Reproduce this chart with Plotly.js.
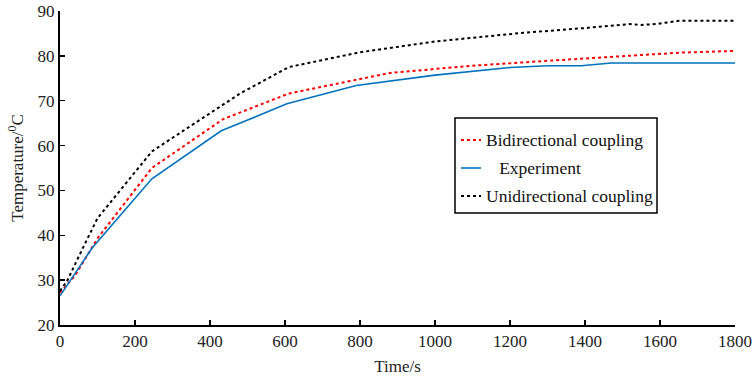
<!DOCTYPE html>
<html>
<head>
<meta charset="utf-8">
<script src="https://cdn.plot.ly/plotly-3.0.1.min.js"></script>
<style>html,body{margin:0;padding:0;background:#fff;}#chart{width:753px;height:377px;}</style>
</head>
<body>
<div id="chart"></div>
<script>
// Bidirectional coupling (red dotted)
const biTime = [0, 40, 100, 245, 435, 610, 880, 1100, 1300, 1500, 1650, 1800];
const biTemp = [27.2, 31.0, 39.3, 55.0, 65.9, 71.6, 76.2, 77.8, 78.9, 79.9, 80.7, 81.1];
// Experiment (blue solid)
const expTime = [0, 85, 245, 430, 605, 790, 1000, 1200, 1300, 1390, 1470, 1800];
const expTemp = [26.5, 37.1, 52.6, 63.3, 69.3, 73.4, 75.7, 77.4, 77.8, 77.8, 78.4, 78.4];
// Unidirectional coupling (black dotted)
const uniTime = [0, 20, 60, 100, 245, 480, 610, 800, 1000, 1230, 1400, 1520, 1550, 1590, 1650, 1800];
const uniTemp = [27.6, 30.0, 37.0, 43.8, 58.7, 71.6, 77.5, 80.8, 83.2, 85.1, 86.2, 87.1, 86.9, 87.1, 87.8, 87.8];

const seriesNames = ["Bidirectional coupling", "\u00a0\u00a0\u00a0Experiment", "Unidirectional coupling"];
const xTicks = [0, 200, 400, 600, 800, 1000, 1200, 1400, 1600, 1800];
const yTicks = [20, 30, 40, 50, 60, 70, 80, 90];

const font = "'Liberation Serif', 'Times New Roman', serif";
const colors = ["#ff0000", "#0072BD", "#000000"];
const dashes = ["3px,3px", "solid", "3px,3px"];
const widths = [2, 1.6, 2];

const traces = [
  {x: biTime, y: biTemp, name: seriesNames[0], mode: "lines",
   line: {color: colors[0], width: widths[0], dash: dashes[0]}},
  {x: expTime, y: expTemp, name: seriesNames[1], mode: "lines",
   line: {color: colors[1], width: widths[1], dash: dashes[1]}},
  {x: uniTime, y: uniTemp, name: seriesNames[2], mode: "lines",
   line: {color: colors[2], width: widths[2], dash: dashes[2]}}
];

// legend box drawn by hand (pixel -> paper helpers)
const M = {l: 60, r: 18, t: 11, b: 52};
const PW = 753 - M.l - M.r, PH = 377 - M.t - M.b;
const px = v => (v - M.l) / PW;
const py = v => (377 - M.b - v) / PH;

const shapes = [
  {type: "rect", xref: "paper", yref: "paper", x0: px(455), x1: px(657), y0: py(213), y1: py(118),
   line: {color: "#000", width: 1.5}, fillcolor: "#fff", layer: "above"}
];
const annotations = [];
const rowY = [140, 168, 196];
for (let i = 0; i < 3; i++) {
  shapes.push({type: "line", xref: "paper", yref: "paper", x0: px(461), x1: px(481), y0: py(rowY[i]), y1: py(rowY[i]),
    line: {color: colors[i], width: widths[i], dash: dashes[i]}, layer: "above"});
  annotations.push({xref: "paper", yref: "paper", x: px(484), y: py(rowY[i]), xanchor: "left", yanchor: "middle",
    text: seriesNames[i], showarrow: false, font: {family: font, size: 17.5, color: "#111"}});
}

const layout = {
  width: 753, height: 377,
  margin: M,
  paper_bgcolor: "#fff", plot_bgcolor: "#fff",
  font: {family: font, size: 17, color: "#222"},
  showlegend: false,
  shapes: shapes,
  annotations: annotations,
  xaxis: {
    range: [0, 1800], tickvals: xTicks, ticktext: xTicks.map(String),
    showgrid: false, zeroline: false, showline: true, linecolor: "#000", linewidth: 2,
    ticks: "inside", ticklen: 5, tickwidth: 1.5, tickcolor: "#000",
    title: {text: "Time/s", font: {family: font, size: 17, color: "#222"}, standoff: 10},
    tickfont: {family: font, size: 17, color: "#222"}
  },
  yaxis: {
    range: [20, 90], tickvals: yTicks, ticktext: yTicks.map(String),
    showgrid: false, zeroline: false, showline: true, linecolor: "#000", linewidth: 2,
    ticks: "inside", ticklen: 5, tickwidth: 1.5, tickcolor: "#000",
    title: {text: "Temperature/<sup>0</sup>C", font: {family: font, size: 17, color: "#222"}, standoff: 10},
    tickfont: {family: font, size: 17, color: "#222"}
  }
};

Plotly.newPlot("chart", traces, layout, {displayModeBar: false, staticPlot: true});
</script>
</body>
</html>
